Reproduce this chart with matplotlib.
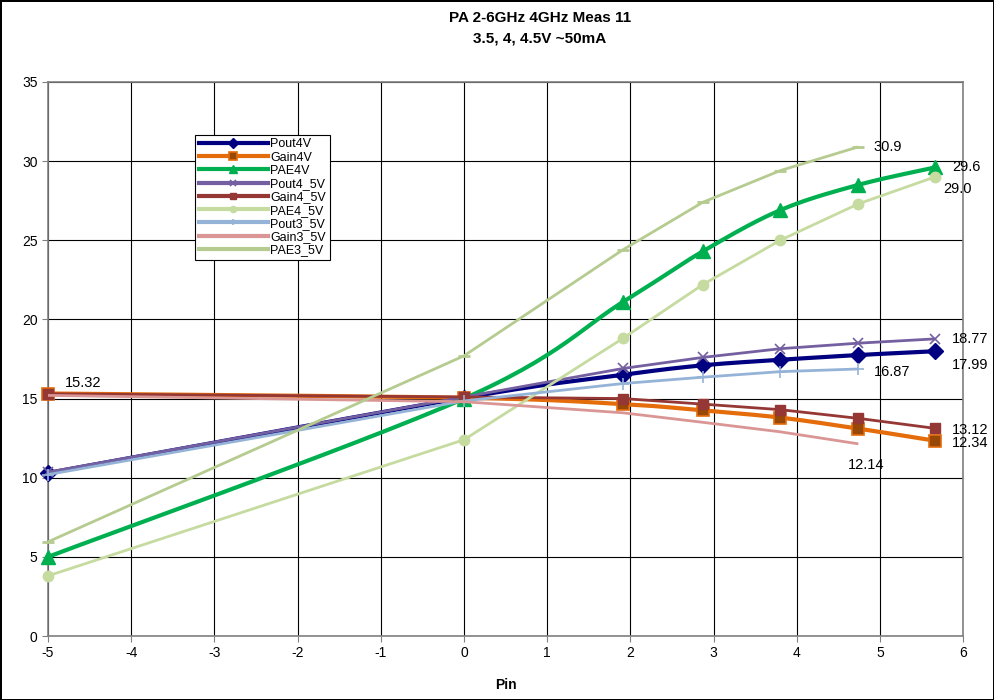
import numpy as np
import matplotlib.pyplot as plt
from matplotlib.lines import Line2D

plt.rcParams['font.family'] = ['Liberation Sans', 'DejaVu Sans']
plt.rcParams['axes.unicode_minus'] = False

# input power sweep (dBm)
pin_4 = [-5, 0, 1.91, 2.87, 3.80, 4.74, 5.66]
pin_45 = [-5, 0, 1.91, 2.87, 3.80, 4.74, 5.66]
pin_35 = [-5, 0, 1.91, 2.87, 3.80, 4.74]

pout_4v = [10.3, 15.05, 16.5, 17.1, 17.45, 17.75, 17.99]
gain_4v = [15.32, 15.05, 14.65, 14.25, 13.8, 13.1, 12.34]
pae_4v = [5.0, 15.0, 21.1, 24.3, 26.9, 28.5, 29.6]

pout_45v = [10.35, 15.1, 16.9, 17.6, 18.15, 18.5, 18.77]
gain_45v = [15.3, 15.1, 15.0, 14.65, 14.3, 13.75, 13.12]
pae_45v = [3.8, 12.4, 18.8, 22.2, 25.0, 27.3, 29.0]

pout_35v = [10.2, 14.85, 15.95, 16.35, 16.7, 16.87]
gain_35v = [15.2, 14.8, 14.1, 13.5, 12.9, 12.14]
pae_35v = [5.95, 17.7, 24.4, 27.4, 29.4, 30.9]


def smooth(x, y, n=30):
    # Bezier smoothing through the points (Catmull-Rom style control points)
    x = np.asarray(x, float)
    y = np.asarray(y, float)
    px = np.concatenate([[x[0]], x, [x[-1]]])
    py = np.concatenate([[y[0]], y, [y[-1]]])
    xs, ys = [], []
    t = np.linspace(0, 1, n)
    for i in range(1, len(px) - 2):
        p0 = np.array([px[i], py[i]])
        p3 = np.array([px[i + 1], py[i + 1]])
        c1 = p0 + (np.array([px[i + 1], py[i + 1]]) - np.array([px[i - 1], py[i - 1]])) / 6
        c2 = p3 - (np.array([px[i + 2], py[i + 2]]) - np.array([px[i], py[i]])) / 6
        b = ((1 - t) ** 3)[:, None] * p0 + (3 * (1 - t) ** 2 * t)[:, None] * c1 \
            + (3 * (1 - t) * t ** 2)[:, None] * c2 + (t ** 3)[:, None] * p3
        xs.extend(b[:, 0])
        ys.extend(b[:, 1])
    return xs, ys


series = [
    ('Pout4V', pin_4, pout_4v, dict(color='#000080', lw=3.0, marker='D', ms=8, mfc='#000080', mec='#000080'), True),
    ('Gain4V', pin_4, gain_4v, dict(color='#E46C0A', lw=3.0, marker='s', ms=9, mfc='#984807', mec='#E46C0A', mew=1.2), True),
    ('PAE4V', pin_4, pae_4v, dict(color='#00B050', lw=3.0, marker='^', ms=10, mfc='#00B050', mec='#00B050'), True),
    ('Pout4_5V', pin_45, pout_45v, dict(color='#7460A0', lw=2.0, marker='x', ms=7, mfc='#7460A0', mec='#7460A0', mew=1.2), False),
    ('Gain4_5V', pin_45, gain_45v, dict(color='#953735', lw=2.0, marker='s', ms=7, mfc='#953735', mec='#953735'), False),
    ('PAE4_5V', pin_45, pae_45v, dict(color='#C6DBA0', lw=2.0, marker='o', ms=7.5, mfc='#C6DBA0', mec='#C6DBA0'), False),
    ('Pout3_5V', pin_35, pout_35v, dict(color='#95B3D7', lw=2.0, marker='+', ms=8, mfc='#95B3D7', mec='#95B3D7', mew=1.2), False),
    ('Gain3_5V', pin_35, gain_35v, dict(color='#D99694', lw=2.0, marker='None'), False),
    ('PAE3_5V', pin_35, pae_35v, dict(color='#B5CB8F', lw=2.0, marker='_', ms=8, mfc='#B5CB8F', mec='#B5CB8F', mew=2), False),
]

fig = plt.figure(figsize=(9.94, 7.0), dpi=100)
fig.patch.set_edgecolor('black')
fig.patch.set_linewidth(2)
ax = fig.add_axes([0.0483, 0.0914, 0.9207, 0.7915])

handles = []
for z, (name, xs, ys, st, sm) in enumerate(series):
    if sm:
        lx, ly = smooth(xs, ys)
    else:
        lx, ly = xs, ys
    ax.plot(lx, ly, color=st['color'], lw=st['lw'], zorder=3 + z, solid_capstyle='butt')
    mk = {k: v for k, v in st.items() if k not in ('color', 'lw')}
    ax.plot(xs, ys, ls='none', zorder=3 + z, clip_on=False, **mk)
    # legend keys: thick line, small marker
    hs = dict(st)
    hs['lw'] = 3.0
    if 'ms' in hs:
        hs['ms'] = hs['ms'] * 0.6
    handles.append(Line2D([], [], label=name, **hs))

# value labels at the ends of the series
labels = [
    (pin_4[0], gain_4v[0], 17, 11),
    (pin_35[-1], pae_35v[-1], 15, 0),
    (pin_4[-1], pae_4v[-1], 17, 0),
    (pin_45[-1], pae_45v[-1], 8, -12),
    (pin_45[-1], pout_45v[-1], 17, 0),
    (pin_4[-1], pout_4v[-1], 17, -14),
    (pin_35[-1], pout_35v[-1], 16, -3),
    (pin_45[-1], gain_45v[-1], 17, -2),
    (pin_4[-1], gain_4v[-1], 17, -2),
    (pin_35[-1], gain_35v[-1], -10, -21),
]
for x, y, dx, dy in labels:
    txt = f'{y:.1f}' if y > 25 else f'{y:.2f}'
    ax.annotate(txt, (x, y), xytext=(dx, dy), textcoords='offset pixels',
                ha='left', va='center', fontsize=10.5, annotation_clip=False, zorder=20)

ax.set_xlim(-5, 6)
ax.set_ylim(0, 35)
ax.set_xticks(np.arange(-5, 7, 1))
ax.set_yticks(np.arange(0, 36, 5))
ax.grid(True, color='black', lw=0.8)
ax.set_axisbelow(True)
ax.tick_params(labelsize=10, length=4, width=0.8, color='#808080')
for s in ax.spines.values():
    s.set_color('#808080')
    s.set_linewidth(1.2)
ax.set_xlabel('Pin', fontsize=10, fontweight='bold', labelpad=13)

fig.text(0.543, 0.974, 'PA 2-6GHz 4GHz Meas 11', ha='center', va='center',
         fontsize=11, fontweight='bold')
fig.text(0.543, 0.945, '3.5, 4, 4.5V ~50mA', ha='center', va='center',
         fontsize=11, fontweight='bold')

leg = ax.legend(handles=handles, loc='upper left', bbox_to_anchor=(0.161, 0.905),
                fontsize=9, handlelength=5.5, labelspacing=0.1, borderpad=0.3,
                handletextpad=0.2, fancybox=False, framealpha=1, borderaxespad=0)
leg.get_frame().set_edgecolor('black')
leg.get_frame().set_linewidth(0.8)
leg.set_zorder(30)

fig.savefig('out.png', dpi=100, edgecolor=fig.get_edgecolor())
